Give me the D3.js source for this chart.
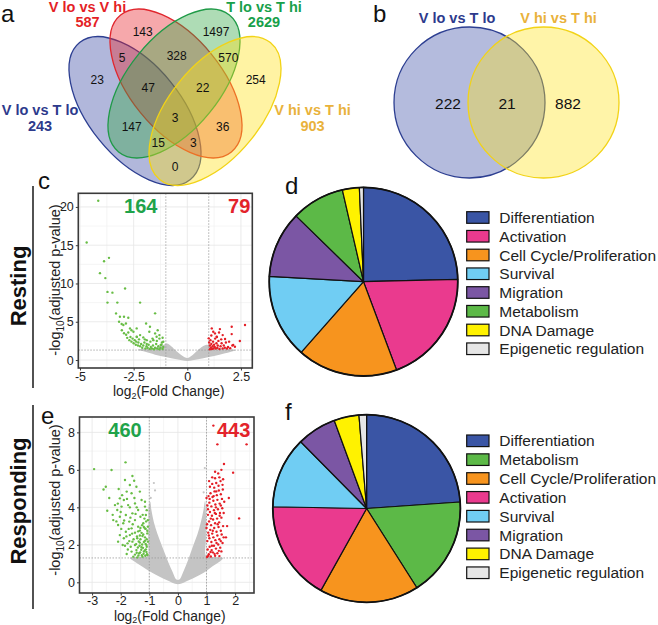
<!DOCTYPE html>
<html><head><meta charset="utf-8">
<script src="https://cdn.jsdelivr.net/npm/d3@7/dist/d3.min.js"></script>
<style>
html,body{margin:0;padding:0;background:#fff;}
svg{display:block;font-family:"Liberation Sans",Arial,Helvetica,sans-serif;}
</style></head><body>
<svg id="fig" width="658" height="625"></svg>
<script>
// ================= DATA =================
// Panel a: four-set Venn
const vennSetNames  = ["V lo vs V hi", "T lo vs T hi", "V lo vs T lo", "V hi vs T hi"];
const vennSetTotals = [587, 2629, 243, 903];
// region keys: B = V lo vs T lo, R = V lo vs V hi, G = T lo vs T hi, Y = V hi vs T hi
const vennRegionKeys   = ["R","G","BR","RG","GY","B","BRG","RGY","Y","BRGY","BG","RY","BGY","BRY","BY"];
const vennRegionCounts = [143, 1497, 5, 328, 570, 23, 47, 22, 254, 3, 147, 36, 15, 3, 0];

// Panel b: two-set Venn
const venn2SetNames = ["V lo vs T lo", "V hi vs T hi"];
const venn2Counts   = [222, 21, 882]; // left only, both, right only

// Panel c: Resting volcano
const restingCounts = [164, 79]; // down, up
const restingXTicks = [-5, -2.5, 0, 2.5];
const restingYTicks = [0, 5, 10, 15, 20];
const restingDown = [
[-4.15,20.8],[-4.69,15.35],[-3.88,12.9],[-3.65,13.35],[-4.07,11.35],[-3.82,10.7],[-3.72,8.9],[-3.49,8.8],
[-2.9,9.35],[-3.72,7.5],[-3.26,7.5],[-2.2,7.5],[-1.5,6.1],[-3.32,6.09],[-3.14,5.65],[-2.75,5.52],[-2.95,5.65],
[-3.18,5.0],[-2.98,4.57],[-3.06,4.7],[-2.86,4.78],[-2.67,4.13],[-2.51,3.7],[-2.6,3.9],[-2.36,3.04],[-2.36,4.13],
[-2.2,3.26],[-2.05,2.96],[-1.92,4.78],[-1.74,4.35],[-1.38,3.9],[-1.5,3.48],[-1.77,3.7],[-1.43,3.04],[-1.3,3.26],
[-1.15,2.91],[-1.89,2.6],[-1.89,2.1],[-1.58,2.6],[-1.24,1.96],[-1.12,2.39],
[-2.85,3.3],[-2.8,2.9],[-2.7,2.6],[-2.65,3.0],[-2.6,2.4],[-2.55,2.8],[-2.5,2.2],[-2.45,2.6],[-2.4,2.0],
[-2.38,2.4],[-2.3,1.9],[-2.28,2.3],[-2.2,1.8],[-2.15,2.1],[-2.1,1.6],[-2.05,1.9],[-2.0,2.3],[-1.95,1.5],
[-1.9,1.8],[-1.85,1.6],[-1.8,2.0],[-1.75,1.45],[-1.7,1.7],[-1.65,1.5],[-1.6,1.9],[-1.55,1.4],[-1.5,1.6],
[-1.45,2.1],[-1.4,1.5],[-1.35,1.8],[-1.3,1.4],[-1.25,1.6],[-1.2,2.0],[-1.15,1.45],[-1.12,1.7],[-2.95,3.5],
[-3.05,3.9],[-2.75,3.6],[-2.35,3.0],[-2.25,2.7],[-1.98,2.7],[-1.72,2.4],[-1.62,2.8],[-1.42,2.5],[-1.3,2.8],[-1.18,2.3]
];
const restingUp = [
[1.14,4.13],[1.21,3.7],[1.52,4.04],[2.07,4.35],[2.69,4.57],[1.0,2.83],[1.37,3.04],[1.76,2.74],[2.45,2.48],[2.14,1.96],
[1.29,3.48],[1.65,3.26],[2.07,3.39],[2.22,1.74],
[1.02,2.3],[1.05,1.9],[1.08,2.6],[1.1,1.6],[1.12,2.1],[1.15,1.45],[1.18,1.8],[1.2,2.4],[1.22,1.5],[1.25,2.0],
[1.28,1.7],[1.3,2.8],[1.33,1.5],[1.36,2.2],[1.4,1.6],[1.42,1.9],[1.45,2.5],[1.5,1.45],[1.55,1.8],[1.6,2.2],
[1.65,1.5],[1.7,1.9],[1.75,1.6],[1.8,2.3],[1.85,1.5],[1.9,1.7],[2.0,1.55],[2.1,1.9],[1.38,3.0],[1.58,2.7],
[1.12,3.2],[1.95,2.4],[1.48,3.6],[1.05,1.4]
];
// outline of the dense grey (non-significant) cloud
const restingNsOutline = [
[-2.3,1.35],[-2.0,1.5],[-1.5,1.6],[-1.15,1.9],[-0.95,2.15],[-0.75,1.8],[-0.5,1.15],[-0.25,0.6],[-0.05,0.3],
[0.05,0.3],[0.3,0.8],[0.6,1.55],[0.9,2.0],[1.2,1.7],[1.6,1.5],[2.0,1.4],[2.25,1.3],[2.0,1.05],[1.5,0.7],
[1.0,0.4],[0.5,0.1],[0,-0.12],[-0.5,0.1],[-1.0,0.4],[-1.5,0.7],[-2.0,1.1],[-2.3,1.3]
];

// Panel e: Responding volcano
const respondingCounts = [460, 443];
const respondingXTicks = [-3, -2, -1, 0, 1, 2];
const respondingYTicks = [0, 2, 4, 6, 8];
const respondingDown = [
[-2.93,6.04],[-2.32,5.99],[-1.83,6.4],[-2.52,5.1],[-2.07,4.98],[-2.47,3.82],[-1.59,5.67],[-1.53,5.42],[-1.85,5.46],
[-1.68,5.19],[-1.45,5.1],[-1.79,4.84],[-1.62,4.75],[-1.33,4.84],[-2.03,4.48],[-1.89,4.39],[-2.2,4.12],[-2.12,3.86],
[-1.97,4.04],[-1.74,4.12],[-1.5,4.21],[-1.27,4.39],[-1.15,4.04],[-1.39,3.86],[-1.59,3.68],[-1.82,3.59],[-2.03,3.5],
[-2.26,3.32],[-2.09,3.06],[-1.91,3.15],[-1.7,3.24],[-1.5,3.32],[-1.31,3.5],[-1.12,3.59],[-1.21,3.15],[-1.39,2.97],
[-1.62,2.88],[-1.82,2.7],[-2.03,2.52],[-2.09,2.17],[-1.89,2.35],[-1.68,2.52],[-1.5,2.65],[-1.33,2.76],[-1.15,2.88],
[-1.07,2.61],[-1.24,2.47],[-1.42,2.35],[-1.59,2.17],[-1.76,2.08],[-1.93,1.99],[-1.5,1.99],[-1.33,2.12],[-1.15,2.22],
[-1.1,1.99],[-1.27,1.87],[-1.45,1.72],[-1.62,1.64],[-1.79,1.51],[-1.35,1.55],[-1.19,1.64],[-1.07,1.46],[-1.24,1.37],
[-1.42,1.33],[-1.56,1.37],[-1.12,1.76],[-1.05,2.17],[-1.05,2.97],[-1.05,3.32],
[-1.08,1.5],[-1.14,1.42],[-1.2,1.52],[-1.26,1.45],[-1.32,1.6],[-1.38,1.43],[-1.44,1.58],[-1.5,1.48],[-1.1,1.62],
[-1.16,1.7],[-1.22,1.84],[-1.28,1.74],[-1.34,1.95],[-1.4,1.86],[-1.46,2.04],[-1.09,1.9],[-1.13,2.05],[-1.19,2.15],
[-1.25,2.02],[-1.31,2.3],[-1.37,2.18],[-1.43,2.45],[-1.09,2.3],[-1.15,2.4],[-1.21,2.55],[-1.27,2.64],[-1.33,2.5],
[-1.39,2.72],[-1.07,2.75],[-1.13,2.85],[-1.19,2.95],[-1.25,3.05],[-1.31,2.9],[-1.11,3.25],[-1.17,3.4],[-1.23,3.6],
[-1.09,3.85],[-1.15,4.3],[-1.55,2.3],[-1.6,2.6],[-1.65,1.9],[-1.7,2.2],[-1.75,1.75],[-1.8,2.45],[-1.85,1.95],
[-1.58,3.1],[-1.66,3.45],[-1.72,2.85],[-1.48,3.65],[-1.44,4.0],[-1.52,4.5],[-1.68,4.0],[-1.95,4.65],[-2.1,4.2],
[-2.28,3.6],[-2.15,3.25],[-1.98,2.85],[-1.88,3.3],[-2.0,3.75],[-1.78,4.45],[-2.4,4.5],[-2.6,4.95]
];
const respondingUp = [
[1.24,8.36],[1.38,7.36],[2.4,7.36],[1.93,5.85],[2.14,3.41],[1.61,6.31],[1.41,5.81],[1.52,6.0],[1.3,5.9],[1.78,4.5],
[1.72,3.0],[1.68,2.4],
[1.02,1.35],[1.08,1.5],[1.15,1.38],[1.22,1.6],[1.3,1.42],[1.38,1.55],[1.45,1.4],[1.52,1.65],[1.04,1.75],[1.11,1.9],
[1.18,1.72],[1.26,1.95],[1.33,1.8],[1.41,2.02],[1.48,1.85],[1.56,2.1],[1.03,2.2],[1.1,2.35],[1.17,2.15],[1.24,2.4],
[1.31,2.25],[1.38,2.5],[1.45,2.3],[1.53,2.55],[1.06,2.65],[1.13,2.8],[1.2,2.6],[1.27,2.9],[1.35,2.7],[1.42,2.95],
[1.5,2.75],[1.58,3.0],[1.02,3.1],[1.09,3.25],[1.16,3.05],[1.23,3.35],[1.3,3.15],[1.37,3.4],[1.44,3.2],[1.52,3.45],
[1.05,3.6],[1.12,3.75],[1.19,3.55],[1.26,3.85],[1.33,3.65],[1.4,3.9],[1.47,3.7],[1.55,3.95],[1.03,4.1],[1.1,4.25],
[1.17,4.05],[1.24,4.35],[1.31,4.15],[1.38,4.4],[1.46,4.2],[1.54,4.45],[1.07,4.6],[1.14,4.75],[1.21,4.55],[1.28,4.85],
[1.36,4.65],[1.43,4.9],[1.5,4.7],[1.57,4.95],[1.12,5.1],[1.2,5.25],[1.27,5.05],[1.34,5.3],[1.42,5.15],[1.49,5.4],
[1.56,5.2],[1.3,5.55],[1.45,5.6],[1.0,2.9],[1.0,4.5],[1.06,1.42],[1.14,1.62],[1.19,1.95],[1.28,1.52],[1.35,2.1],
[1.43,1.68],[1.5,2.2],[1.08,2.5],[1.22,2.75],[1.39,3.1],[1.15,3.4],[1.29,3.7],[1.46,3.55],[1.11,4.45],[1.33,4.0],
[1.5,4.1],[1.25,4.6],[1.6,3.7],[1.62,4.3],[1.6,2.4],[1.58,5.5],[1.2,5.6],[1.09,5.4],[1.34,4.85],[1.05,3.9]
];
const respondingNsPoints = [[-0.84,5.3],[0.94,6.1],[-0.95,4.5],[0.9,4.8],[-0.8,4.9]];
const respondingNsOutline = [
[0,-0.1],[-0.4,0.12],[-0.87,0.48],[-1.25,0.85],[-1.56,1.15],[-1.68,1.3],[-1.3,1.36],[-1.06,1.4],[-1.04,2.2],
[-1.03,3.2],[-1.02,4.1],[-0.97,4.3],[-0.92,3.8],[-0.84,3.2],[-0.72,2.6],[-0.56,1.95],[-0.38,1.25],[-0.2,0.6],
[-0.05,0.15],[0.05,0.15],[0.2,0.6],[0.36,1.2],[0.52,1.9],[0.68,2.55],[0.8,3.2],[0.9,3.9],[0.95,4.35],[0.98,3.6],
[0.98,2.3],[0.99,1.4],[1.3,1.35],[1.58,1.3],[1.5,1.15],[1.2,0.85],[0.87,0.48],[0.4,0.12]
];

// Panels d & f: pie charts (percent of genes per category)
const restingCategories = ["Differentiation","Activation","Cell Cycle/Proliferation","Survival","Migration","Metabolism","DNA Damage","Epigenetic regulation"];
const restingPercents   = [24.6, 19.7, 17.2, 14.4, 11.4, 9.1, 2.9, 0.7];
const respondingCategories = ["Differentiation","Metabolism","Cell Cycle/Proliferation","Activation","Survival","Migration","DNA Damage","Epigenetic regulation"];
const respondingPercents   = [23.9, 17.1, 17.1, 17.2, 12.3, 6.8, 4.3, 1.3];

// ================= STYLE / LAYOUT =================
const categoryColor = {
  "Differentiation":"#3a55a5","Activation":"#ea3a8e","Cell Cycle/Proliferation":"#f7941e",
  "Survival":"#70cdf3","Migration":"#7b56a4","Metabolism":"#5cb947","DNA Damage":"#fff200",
  "Epigenetic regulation":"#e6e6e6"
};
const setStyle = {
  B:{fill:"#3b4ba5", stroke:"#2c3e91", text:"#2d3a8c"},
  R:{fill:"#e8262d", stroke:"#e0262d", text:"#e41f26"},
  G:{fill:"#34a845", stroke:"#1f9a47", text:"#17a04a"},
  Y:{fill:"#ffe11a", stroke:"#f2d316", text:"#e9b23b"}
};
const svg = d3.select("#fig");

// ---------- panel letters & row titles ----------
const letters = [["a",1,22],["b",373,22],["c",38,189],["d",285,194],["e",41,424],["f",285,420]];
svg.selectAll("text.letter").data(letters).join("text").attr("class","letter")
  .attr("x",d=>d[1]).attr("y",d=>d[2]).text(d=>d[0])
  .attr("font-size","24px").attr("fill","#111");

[["Resting",18.5,286,186,388],["Responding",18.5,501,405,609]].forEach(([t,x,y,y1,y2])=>{
  svg.append("text").attr("transform",`translate(${x},${y}) rotate(-90)`)
    .attr("text-anchor","middle").attr("dy","0.36em").attr("font-size","22px")
    .attr("font-weight","bold").attr("fill","#111").text(t);
  svg.append("line").attr("x1",33).attr("x2",33).attr("y1",y1).attr("y2",y2)
    .attr("stroke","#333").attr("stroke-width",1.7);
});

// ---------- Panel a ----------
(function(){
  const g = svg.append("g");
  const ell = {B:[135,111,51], R:[176,83.5,51], G:[174,83.5,-51], Y:[215,111,-51]};
  const order = ["B","R","G","Y"];
  g.selectAll("ellipse").data(order).join("ellipse")
    .attr("cx",k=>ell[k][0]).attr("cy",k=>ell[k][1]).attr("rx",88).attr("ry",46)
    .attr("transform",k=>`rotate(${ell[k][2]},${ell[k][0]},${ell[k][1]})`)
    .attr("fill",k=>setStyle[k].fill).attr("fill-opacity",0.4)
    .attr("stroke",k=>setStyle[k].stroke).attr("stroke-width",1.3);
  const regionPos = {R:[142.7,32],G:[216,32],BR:[122,58],RG:[176.7,56],GY:[228.3,58],B:[97.3,80],
    BRG:[148.3,88],RGY:[202.7,88],Y:[255.7,80],BRGY:[175,118],BG:[131.7,127],RY:[222.7,127],
    BGY:[158.3,143],BRY:[193.3,143],BY:[175,167]};
  g.selectAll("text.rc").data(vennRegionKeys).join("text").attr("class","rc")
    .attr("x",k=>regionPos[k][0]).attr("y",k=>regionPos[k][1]).attr("dy","0.36em")
    .attr("text-anchor","middle").attr("font-size","12px").attr("fill","#111")
    .text((k,i)=>vennRegionCounts[i]);
  const setKeys = ["R","G","B","Y"];
  const labelPos = [[87.5,11.8,27],[264,11.8,27],[40,115,131],[312.5,115,131]];
  setKeys.forEach((k,i)=>{
    g.append("text").attr("x",labelPos[i][0]).attr("y",labelPos[i][1]).attr("text-anchor","middle")
      .attr("font-size","14.5px").attr("font-weight","bold").attr("fill",setStyle[k].text).text(vennSetNames[i]);
    g.append("text").attr("x",labelPos[i][0]).attr("y",labelPos[i][2]).attr("text-anchor","middle")
      .attr("font-size","14.5px").attr("font-weight","bold").attr("fill",setStyle[k].text).text(vennSetTotals[i]);
  });
})();

// ---------- Panel b ----------
(function(){
  const g = svg.append("g");
  const circles = [["B",469.5],["Y",543.5]];
  g.selectAll("circle").data(circles).join("circle")
    .attr("cx",d=>d[1]).attr("cy",102.5).attr("r",75.5)
    .attr("fill",d=>setStyle[d[0]].fill).attr("fill-opacity",0.38)
    .attr("stroke",d=>setStyle[d[0]].stroke).attr("stroke-width",1.3);
  const numX = [448, 507, 568];
  g.selectAll("text.n").data(venn2Counts).join("text").attr("class","n")
    .attr("x",(d,i)=>numX[i]).attr("y",103).attr("dy","0.36em").attr("text-anchor","middle")
    .attr("font-size","15.5px").attr("fill","#111").text(d=>d);
  const lab = [[457,"B"],[558.5,"Y"]];
  lab.forEach(([x,k],i)=>{
    g.append("text").attr("x",x).attr("y",23).attr("text-anchor","middle")
      .attr("font-size","14.5px").attr("font-weight","bold").attr("fill",setStyle[k].text).text(venn2SetNames[i]);
  });
})();

// ---------- Volcano plots ----------
function volcano(o){
  const g = svg.append("g");
  const x = d3.scaleLinear().domain(o.xDomain).range([o.left,o.right]);
  const y = d3.scaleLinear().domain(o.yDomain).range([o.bottom,o.top]);
  const clipId = "clip"+o.id;
  g.append("clipPath").attr("id",clipId).append("rect")
    .attr("x",o.left).attr("y",o.top).attr("width",o.right-o.left).attr("height",o.bottom-o.top);
  const inner = g.append("g").attr("clip-path",`url(#${clipId})`);
  // grid
  inner.selectAll("line.gxm").data(o.xMinor).join("line").attr("x1",d=>x(d)).attr("x2",d=>x(d))
    .attr("y1",o.top).attr("y2",o.bottom).attr("stroke","#f1f1f1").attr("stroke-width",0.7);
  inner.selectAll("line.gym").data(o.yMinor).join("line").attr("y1",d=>y(d)).attr("y2",d=>y(d))
    .attr("x1",o.left).attr("x2",o.right).attr("stroke","#f1f1f1").attr("stroke-width",0.7);
  inner.selectAll("line.gx").data(o.xTicks).join("line").attr("x1",d=>x(d)).attr("x2",d=>x(d))
    .attr("y1",o.top).attr("y2",o.bottom).attr("stroke","#e6e6e6").attr("stroke-width",0.8);
  inner.selectAll("line.gy").data(o.yTicks).join("line").attr("y1",d=>y(d)).attr("y2",d=>y(d))
    .attr("x1",o.left).attr("x2",o.right).attr("stroke","#e6e6e6").attr("stroke-width",0.8);
  // grey non-significant cloud
  const area = d3.line().x(d=>x(d[0])).y(d=>y(d[1])).curve(d3.curveCatmullRomClosed.alpha(0.5));
  inner.append("path").attr("d",area(o.ns)).attr("fill","#c4c4c4");
  inner.selectAll("circle.ns").data(o.nsPts||[]).join("circle").attr("cx",d=>x(d[0])).attr("cy",d=>y(d[1]))
    .attr("r",1.1).attr("fill","#c4c4c4");
  // thresholds
  [-1,1].forEach(v=>inner.append("line").attr("x1",x(v)).attr("x2",x(v)).attr("y1",o.top).attr("y2",o.bottom)
    .attr("stroke","#9a9a9a").attr("stroke-width",0.8).attr("stroke-dasharray","1.5,1.5"));
  inner.append("line").attr("x1",o.left).attr("x2",o.right).attr("y1",y(1.3)).attr("y2",y(1.3))
    .attr("stroke","#9a9a9a").attr("stroke-width",0.8).attr("stroke-dasharray","1.5,1.5");
  // points
  inner.selectAll("circle.dn").data(o.down).join("circle").attr("cx",d=>x(d[0])).attr("cy",d=>y(d[1]))
    .attr("r",1.2).attr("fill","#68bd45");
  inner.selectAll("circle.up").data(o.up).join("circle").attr("cx",d=>x(d[0])).attr("cy",d=>y(d[1]))
    .attr("r",1.2).attr("fill","#e41e26");
  // box
  g.append("rect").attr("x",o.left).attr("y",o.top).attr("width",o.right-o.left).attr("height",o.bottom-o.top)
    .attr("fill","none").attr("stroke","#3a3a3a").attr("stroke-width",1.6);
  // axes
  const ax = g.append("g").attr("transform",`translate(0,${o.bottom})`)
    .call(d3.axisBottom(x).tickValues(o.xTicks).tickFormat(d=>String(d)).tickSize(2.5).tickPadding(o.xPad));
  const ay = g.append("g").attr("transform",`translate(${o.left},0)`)
    .call(d3.axisLeft(y).tickValues(o.yTicks).tickFormat(d=>String(d)).tickSize(2.5).tickPadding(2));
  [ax,ay].forEach(a=>{
    a.select(".domain").remove();
    a.selectAll(".tick line").attr("stroke","#3a3a3a").attr("stroke-width",1);
    a.selectAll(".tick text").attr("font-size","12.5px").attr("fill","#222")
      .attr("font-family",'"Liberation Sans",Arial,sans-serif');
  });
  // axis titles
  const xl = g.append("text").attr("x",o.xLabel[0]).attr("y",o.xLabel[1]).attr("text-anchor","middle")
    .attr("font-size","13.8px").attr("fill","#222");
  xl.append("tspan").text("log");
  xl.append("tspan").attr("dy",2.6).attr("font-size","9px").text("2");
  xl.append("tspan").attr("dy",-2.6).text("(Fold Change)");
  const yl = g.append("text").attr("transform",`translate(${o.yLabel[0]},${o.yLabel[1]}) rotate(-90)`)
    .attr("text-anchor","middle").attr("font-size","14.5px").attr("fill","#222");
  yl.append("tspan").text("-log");
  yl.append("tspan").attr("dy",3.5).attr("font-size","10px").text("10");
  yl.append("tspan").attr("dy",-3.5).text("(adjusted p-value)");
  // counts
  g.append("text").attr("x",o.countPos[0]).attr("y",o.countPos[2]).attr("text-anchor","middle")
    .attr("font-size","20px").attr("font-weight","bold").attr("fill","#1fa34a").text(o.counts[0]);
  g.append("text").attr("x",o.countPos[1]).attr("y",o.countPos[2]).attr("text-anchor","middle")
    .attr("font-size","20px").attr("font-weight","bold").attr("fill","#e3232a").text(o.counts[1]);
}

volcano({id:"c", left:78.3, right:252.3, top:193.3, bottom:368,
  xDomain:[-5.08,3.03], yDomain:[-1.04,21.78],
  xTicks:restingXTicks, yTicks:restingYTicks, xPad:1.8,
  xMinor:[-3.75,-1.25,1.25], yMinor:[2.5,7.5,12.5,17.5],
  ns:restingNsOutline, down:restingDown, up:restingUp, counts:restingCounts,
  countPos:[140.8,239.2,213], xLabel:[168.8,396], yLabel:[60,280]});

volcano({id:"e", left:79.5, right:254, top:417, bottom:593,
  xDomain:[-3.44,2.66], yDomain:[-0.57,8.82],
  xTicks:respondingXTicks, yTicks:respondingYTicks, xPad:0.4,
  xMinor:[-2.5,-1.5,-0.5,0.5,1.5,2.5], yMinor:[1,3,5,7],
  ns:respondingNsOutline, nsPts:respondingNsPoints, down:respondingDown, up:respondingUp, counts:respondingCounts,
  countPos:[125,233.7,436.7], xLabel:[169.7,620.6], yLabel:[60,500]});

// ---------- Pies ----------
function pie(o){
  const g = svg.append("g").attr("transform",`translate(${o.cx},${o.cy})`);
  const data = o.cats.map((c,i)=>({c, v:o.vals[i]}));
  const arcs = d3.pie().sort(null).value(d=>d.v)(data);
  const arc = d3.arc().innerRadius(0).outerRadius(o.r);
  g.selectAll("path").data(arcs).join("path").attr("d",arc)
    .attr("fill",d=>categoryColor[d.data.c]).attr("stroke","#111").attr("stroke-width",1.2)
    .attr("stroke-linejoin","round");
  g.append("circle").attr("r",o.r).attr("fill","none").attr("stroke","#111").attr("stroke-width",1.8);
  const lg = svg.append("g");
  const rows = lg.selectAll("g").data(o.cats).join("g")
    .attr("transform",(d,i)=>`translate(466.7,${o.legY + i*o.legStep})`);
  rows.append("rect").attr("x",0).attr("y",-5.8).attr("width",22.3).attr("height",11.6)
    .attr("fill",d=>categoryColor[d]).attr("stroke","#111").attr("stroke-width",1.2);
  rows.append("text").attr("x",32.6).attr("y",0).attr("dy","0.36em").attr("font-size","15.5px")
    .attr("fill","#222").text(d=>d);
}
pie({cx:363.5, cy:281.7, r:94.3, cats:restingCategories, vals:restingPercents, legY:217.5, legStep:18.75});
pie({cx:366.6, cy:508.5, r:93.8, cats:respondingCategories, vals:respondingPercents, legY:440.8, legStep:18.85});
</script>
</body></html>
